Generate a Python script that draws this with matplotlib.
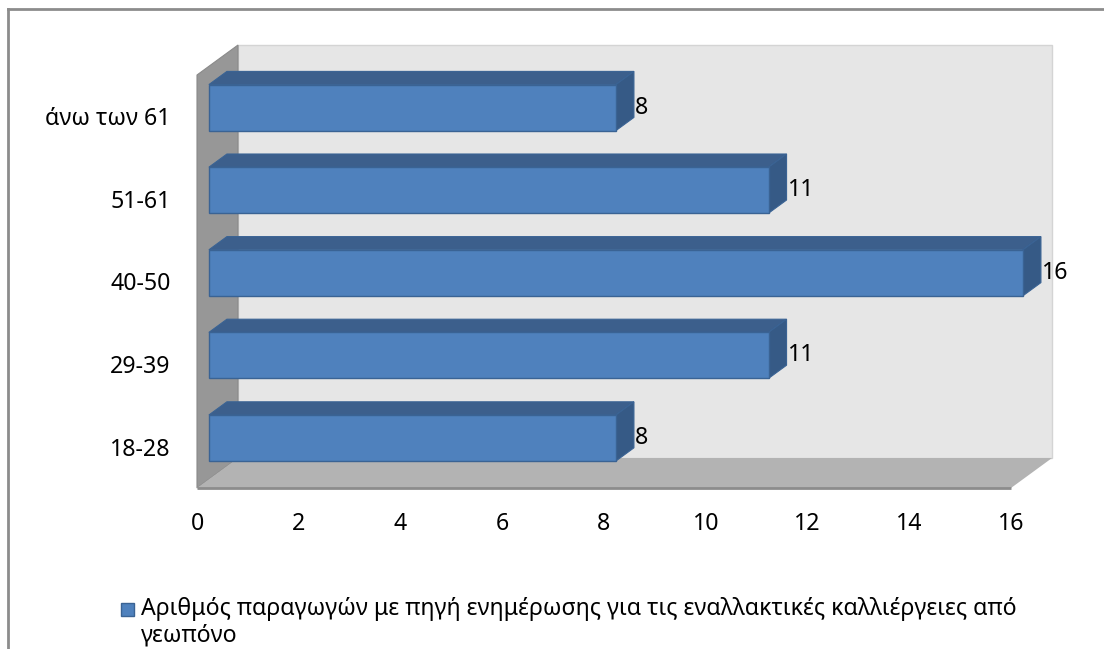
import matplotlib
matplotlib.use("Agg")
import matplotlib.pyplot as plt
from matplotlib.patches import Polygon, Rectangle
from matplotlib.lines import Line2D

plt.rcParams['font.family'] = ['Noto Sans', 'DejaVu Sans']

# age groups and number of producers
categories = ['18-28', '29-39', '40-50', '51-61', 'άνω των 61']
values = [8, 11, 16, 11, 8]
xticks = [0, 2, 4, 6, 8, 10, 12, 14, 16]
series_label = ('Αριθμός παραγωγών με πηγή ενημέρωσης για τις εναλλακτικές καλλιέργειες από\n'
                'γεωπόνο')

# 3d look: depth vector in data units, bar slab sits between d0 and d1 of the depth
DX, DY = 0.806, 0.363
D0, D1 = 0.29, 0.73
BAR_H = 0.557
FS = 16.7

FRONT = '#4F81BD'
TOP = '#3C5F8C'
SIDE = '#365A86'
EDGE = '#3A6394'

W, H = 1104, 649
fig = plt.figure(figsize=(W / 100, H / 100), dpi=100)
ax = fig.add_axes([197 / W, 1 - 488 / H, (1011 - 197) / W, (488 - 75) / H])
ax.set_xlim(0, 16)
ax.set_ylim(-0.5, 4.5)
ax.patch.set_visible(False)
for s in ax.spines.values():
    s.set_visible(False)

xmax = xticks[-1]
ylo, yhi = -0.5, len(categories) - 0.5

# walls and floor
back = Polygon([(DX, ylo + DY), (xmax + DX, ylo + DY), (xmax + DX, yhi + DY), (DX, yhi + DY)],
               closed=True, facecolor='#E6E6E6', edgecolor='#D4D4D4', lw=1, zorder=0)
side = Polygon([(0, ylo), (0, yhi), (DX, yhi + DY), (DX, ylo + DY)],
               closed=True, facecolor='#979797', edgecolor='#8A8A8A', lw=0.8, zorder=1)
floor = Polygon([(0, ylo), (xmax, ylo), (xmax + DX, ylo + DY), (DX, ylo + DY)],
                closed=True, facecolor='#B3B3B3', edgecolor='none', zorder=1)
for p in (back, side, floor):
    p.set_clip_on(False)
    ax.add_patch(p)
ax.plot([0, xmax], [ylo, ylo], color='#8C8C8C', lw=2, clip_on=False, zorder=2,
        solid_capstyle='butt')

# bars
ddx, ddy = (D1 - D0) * DX, (D1 - D0) * DY
for i, v in enumerate(values):
    x0 = D0 * DX
    yc = i + D0 * DY
    yb, yt = yc - BAR_H / 2, yc + BAR_H / 2
    top = Polygon([(x0, yt), (x0 + v, yt), (x0 + v + ddx, yt + ddy), (x0 + ddx, yt + ddy)],
                  closed=True, facecolor=TOP, edgecolor=EDGE, lw=0.8, zorder=3)
    right = Polygon([(x0 + v, yb), (x0 + v, yt), (x0 + v + ddx, yt + ddy), (x0 + v + ddx, yb + ddy)],
                    closed=True, facecolor=SIDE, edgecolor=EDGE, lw=0.8, zorder=3)
    front = Rectangle((x0, yb), v, BAR_H, facecolor=FRONT, edgecolor=EDGE, lw=1, zorder=4)
    for p in (top, right, front):
        p.set_clip_on(False)
        ax.add_patch(p)
    ax.text(x0 + v + ddx + 0.02, yc, str(v), ha='left', va='center', fontsize=FS,
            color='black', zorder=5, clip_on=False)

ax.set_xticks(xticks)
ax.set_xticklabels([str(t) for t in xticks], fontsize=FS)
ax.set_yticks(range(len(categories)))
ax.set_yticklabels(categories, fontsize=FS)
ax.tick_params(axis='x', length=0, pad=17)
ax.tick_params(axis='y', length=0, pad=19)

# legend
fig.patches.append(Rectangle((121 / W, 1 - 616 / H), 13 / W, 13 / H, transform=fig.transFigure,
                             facecolor=FRONT, edgecolor=EDGE, lw=1))
fig.text(141 / W, 1 - 597 / H, series_label, ha='left', va='top', fontsize=FS,
         linespacing=1.12)

# chart border
fig.add_artist(Line2D([8 / W, 8 / W], [0, 1 - 9 / H], color='#8C8C8C', lw=2,
                      transform=fig.transFigure))
fig.add_artist(Line2D([8 / W, 1], [1 - 9 / H, 1 - 9 / H], color='#8C8C8C', lw=2,
                      transform=fig.transFigure))

fig.savefig('out.png', dpi=100, facecolor='white')
